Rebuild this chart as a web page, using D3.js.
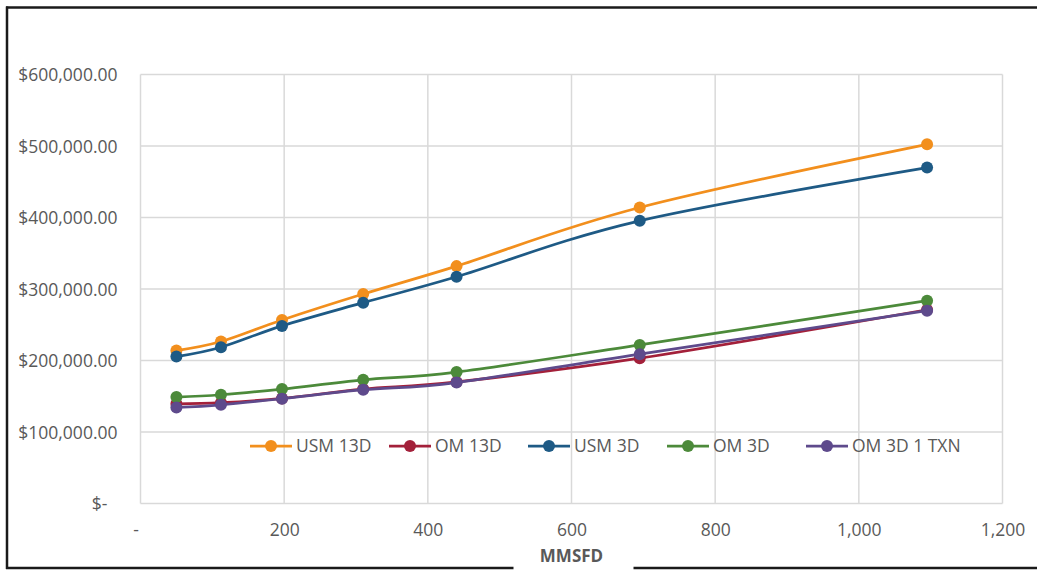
<!DOCTYPE html>
<html>
<head>
<meta charset="utf-8">
<script src="https://cdn.jsdelivr.net/npm/d3@7"></script>
<style>
  html, body { margin: 0; padding: 0; background: #fff; }
  svg { display: block; font-family: "Open Sans", "Noto Sans", sans-serif; }
</style>
</head>
<body>
<svg id="chart" width="1037" height="572"></svg>
<script>
// Flow rate (MMSFD) at each evaluated point
const mmsfd = [50, 112, 197, 310, 440, 695, 1095];

// Cost per scenario, USD
const usm13d   = [213900, 226500, 256700, 293000, 332000, 414000, 502300];
const om13d    = [139500, 141000, 147000, 160000, 170000, 203200, 271000];
const usm3d    = [205500, 218600, 248400, 280900, 317100, 395300, 469800];
const om3d     = [148900, 152100, 160000, 173000, 183800, 221800, 283700];
const om3d1txn = [134400, 138100, 146500, 159100, 169200, 208900, 269700];

const seriesNames  = ["USM 13D", "OM 13D", "USM 3D", "OM 3D", "OM 3D 1 TXN"];
const seriesValues = [usm13d, om13d, usm3d, om3d, om3d1txn];
const seriesColors = ["#F28F1D", "#A3203A", "#1E5A85", "#4C8A3A", "#5E4A8C"];

// Axis ticks and their labels
const xTicks = [0, 200, 400, 600, 800, 1000, 1200];
const xTickLabels = ["-", "200", "400", "600", "800", "1,000", "1,200"];
const yTicks = [0, 100000, 200000, 300000, 400000, 500000, 600000];
const yTickLabels = ["$-", "$100,000.00", "$200,000.00", "$300,000.00", "$400,000.00", "$500,000.00", "$600,000.00"];
const xTitle = "MMSFD";

const svg = d3.select("#chart");
const W = 1037, H = 572;
const plot = { left: 140.5, right: 1002.5, top: 74.5, bottom: 503.5 };
const fontSize = 17.5;

const x = d3.scaleLinear().domain([0, 1200]).range([plot.left, plot.right]);
const y = d3.scaleLinear().domain([0, 600000]).range([plot.bottom, plot.top]);

const gridColor = "#d9d9d9";
const textColor = "#595959";

// Gridlines
const grid = svg.append("g");
grid.selectAll("line.h").data(yTicks).join("line")
  .attr("x1", plot.left).attr("x2", plot.right)
  .attr("y1", d => y(d)).attr("y2", d => y(d))
  .attr("stroke", gridColor).attr("stroke-width", 1.5);
grid.selectAll("line.v").data(xTicks).join("line")
  .attr("y1", plot.top).attr("y2", plot.bottom)
  .attr("x1", d => x(d)).attr("x2", d => x(d))
  .attr("stroke", gridColor).attr("stroke-width", 1.5);

// Y axis labels (accounting format: the zero label sits further left)
const yAxis = d3.axisLeft(y).tickValues(yTicks).tickSize(0)
  .tickFormat((d, i) => yTickLabels[i]);
const gy = svg.append("g").attr("transform", `translate(${plot.left - 20},0)`).call(yAxis);
gy.select(".domain").remove();
gy.selectAll("text")
  .attr("fill", textColor).attr("font-size", fontSize)
  .attr("font-family", "'Open Sans', sans-serif")
  .attr("dx", d => d === 0 ? -10 : 0)
  .attr("dy", "0.35em");

// X axis labels
const xAxis = d3.axisBottom(x).tickValues(xTicks).tickSize(0)
  .tickFormat((d, i) => xTickLabels[i]);
const gx = svg.append("g").attr("transform", `translate(0,${plot.bottom + 17})`).call(xAxis);
gx.select(".domain").remove();
gx.selectAll("text")
  .attr("fill", textColor).attr("font-size", fontSize)
  .attr("font-family", "'Open Sans', sans-serif")
  .attr("dx", d => d === 0 ? -5 : 0);

// Series lines and markers
const line = d3.line()
  .x((d, i) => x(mmsfd[i]))
  .y(d => y(d))
  .curve(d3.curveCardinal.tension(0));

seriesValues.forEach((vals, s) => {
  const g = svg.append("g");
  g.append("path").datum(vals)
    .attr("d", line)
    .attr("fill", "none")
    .attr("stroke", seriesColors[s])
    .attr("stroke-width", 2.75)
    .attr("stroke-linejoin", "round");
  g.selectAll("circle").data(vals).join("circle")
    .attr("cx", (d, i) => x(mmsfd[i]))
    .attr("cy", d => y(d))
    .attr("r", 6)
    .attr("fill", seriesColors[s]);
});

// Legend inside the plot, near the bottom, equal-width entries
const legendLeft = 250, legendPitch = 139;
const legend = svg.append("g").attr("transform", "translate(0,446)");
seriesNames.forEach((name, s) => {
  const item = legend.append("g").attr("transform", `translate(${legendLeft + s * legendPitch},0)`);
  item.append("line").attr("x1", 0).attr("x2", 42).attr("y1", 0).attr("y2", 0)
    .attr("stroke", seriesColors[s]).attr("stroke-width", 2.75);
  item.append("circle").attr("cx", 21).attr("cy", 0).attr("r", 6)
    .attr("fill", seriesColors[s]);
  item.append("text").attr("x", 46).attr("y", 0).attr("dy", "0.35em")
    .attr("fill", textColor).attr("font-size", fontSize)
    .text(name);
});

// Outer frame: top, left and bottom edges
const frame = svg.append("g").attr("stroke", "#1a1a1a").attr("stroke-width", 2.5);
frame.append("line").attr("x1", 6).attr("x2", W).attr("y1", 7.5).attr("y2", 7.5);
frame.append("line").attr("x1", 7).attr("x2", 7).attr("y1", 6.5).attr("y2", 569);
frame.append("line").attr("x1", 6).attr("x2", W).attr("y1", 568).attr("y2", 568);

// Axis title with its own white box
const titleCx = (plot.left + plot.right) / 2;
svg.append("rect").attr("x", titleCx - 58).attr("y", 545).attr("width", 120).attr("height", 27)
  .attr("fill", "#fff");
svg.append("text").attr("x", titleCx).attr("y", 556).attr("dy", "0.35em")
  .attr("text-anchor", "middle").attr("font-weight", "bold")
  .attr("fill", textColor).attr("font-size", 17)
  .text(xTitle);
</script>
</body>
</html>
